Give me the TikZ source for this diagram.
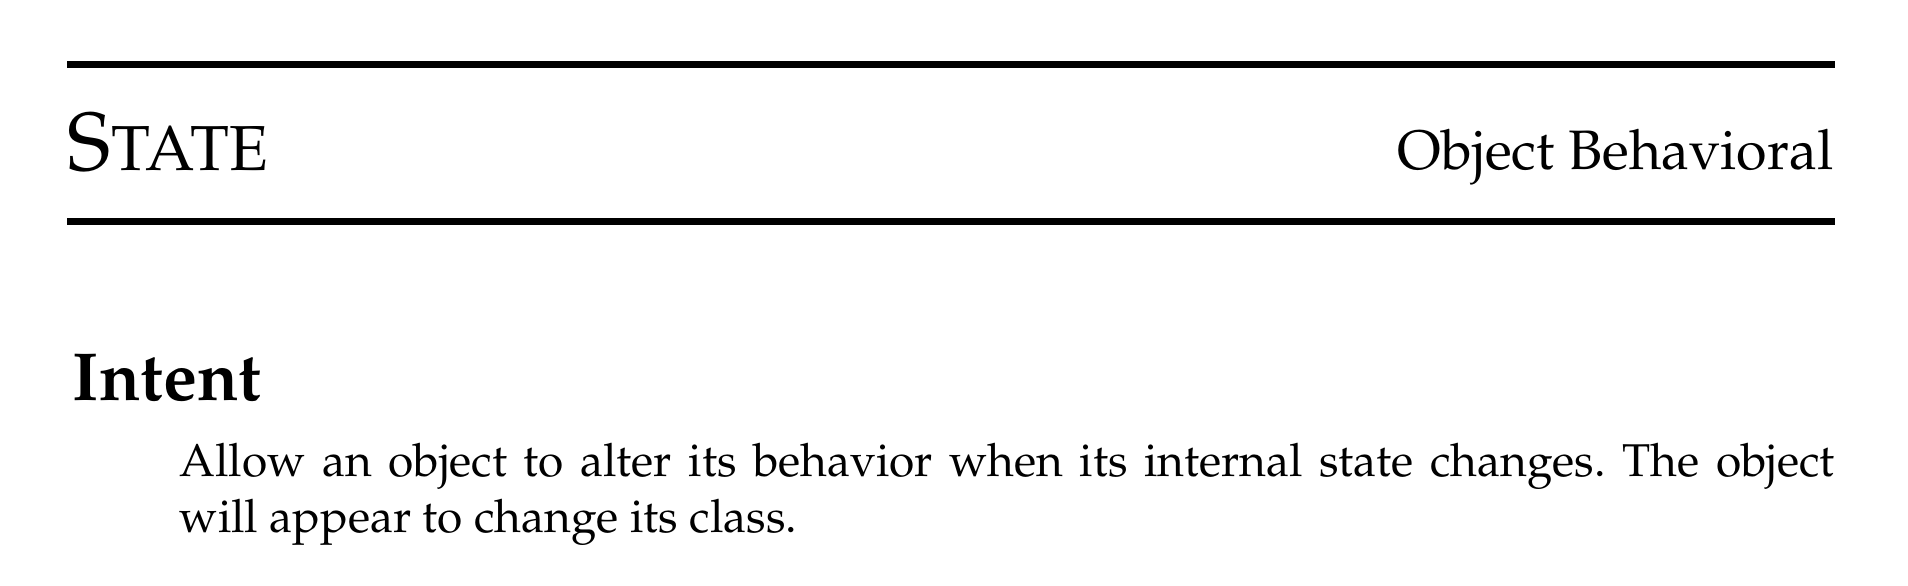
\documentclass[tikz,border=0pt]{standalone}
\usepackage[T1]{fontenc}
\usepackage{mathpazo}
\usetikzlibrary{positioning}
\frenchspacing
\begin{document}
\begin{tikzpicture}
[x=0.25pt, y=-0.25pt,
 headRule/.style={line width=1.75pt},
 typeTitle/.style={anchor=base west,inner sep=0pt},
 typeKind/.style={anchor=base east,inner sep=0pt,font=\fontsize{13.9}{16}\selectfont},
 typeSection/.style={anchor=base west,inner sep=0pt,font=\fontsize{17}{20}\selectfont\bfseries},
 typeBody/.style={anchor=base west,inner sep=0pt,text width=413.75pt,align=justify,font=\fontsize{11.5}{14}\selectfont}]
\useasboundingbox (0,0) rectangle (1908,586);
\coordinate (topL) at (  67, 65);
\coordinate (topR) at (1835, 65);
\coordinate (botL) at (  67,222);
\coordinate (botR) at (1835,222);
\draw[headRule] (topL) -- (topR);
\draw[headRule] (botL) -- (botR);
\node[typeTitle]   (title)  at (  67,171) {{\fontsize{20.6}{24}\selectfont S}{\fontsize{15.9}{18}\selectfont TATE}};
\node[typeKind]    (kind)   at (1834,170) {Object Behavioral};
\node[typeSection] (intent) at (  72,401) {Intent};
\node[typeBody]    (text)   at ( 179,477) {Allow an object to alter its behavior when its internal state changes. The object\linebreak will appear to change its class.};
\end{tikzpicture}
\end{document}
